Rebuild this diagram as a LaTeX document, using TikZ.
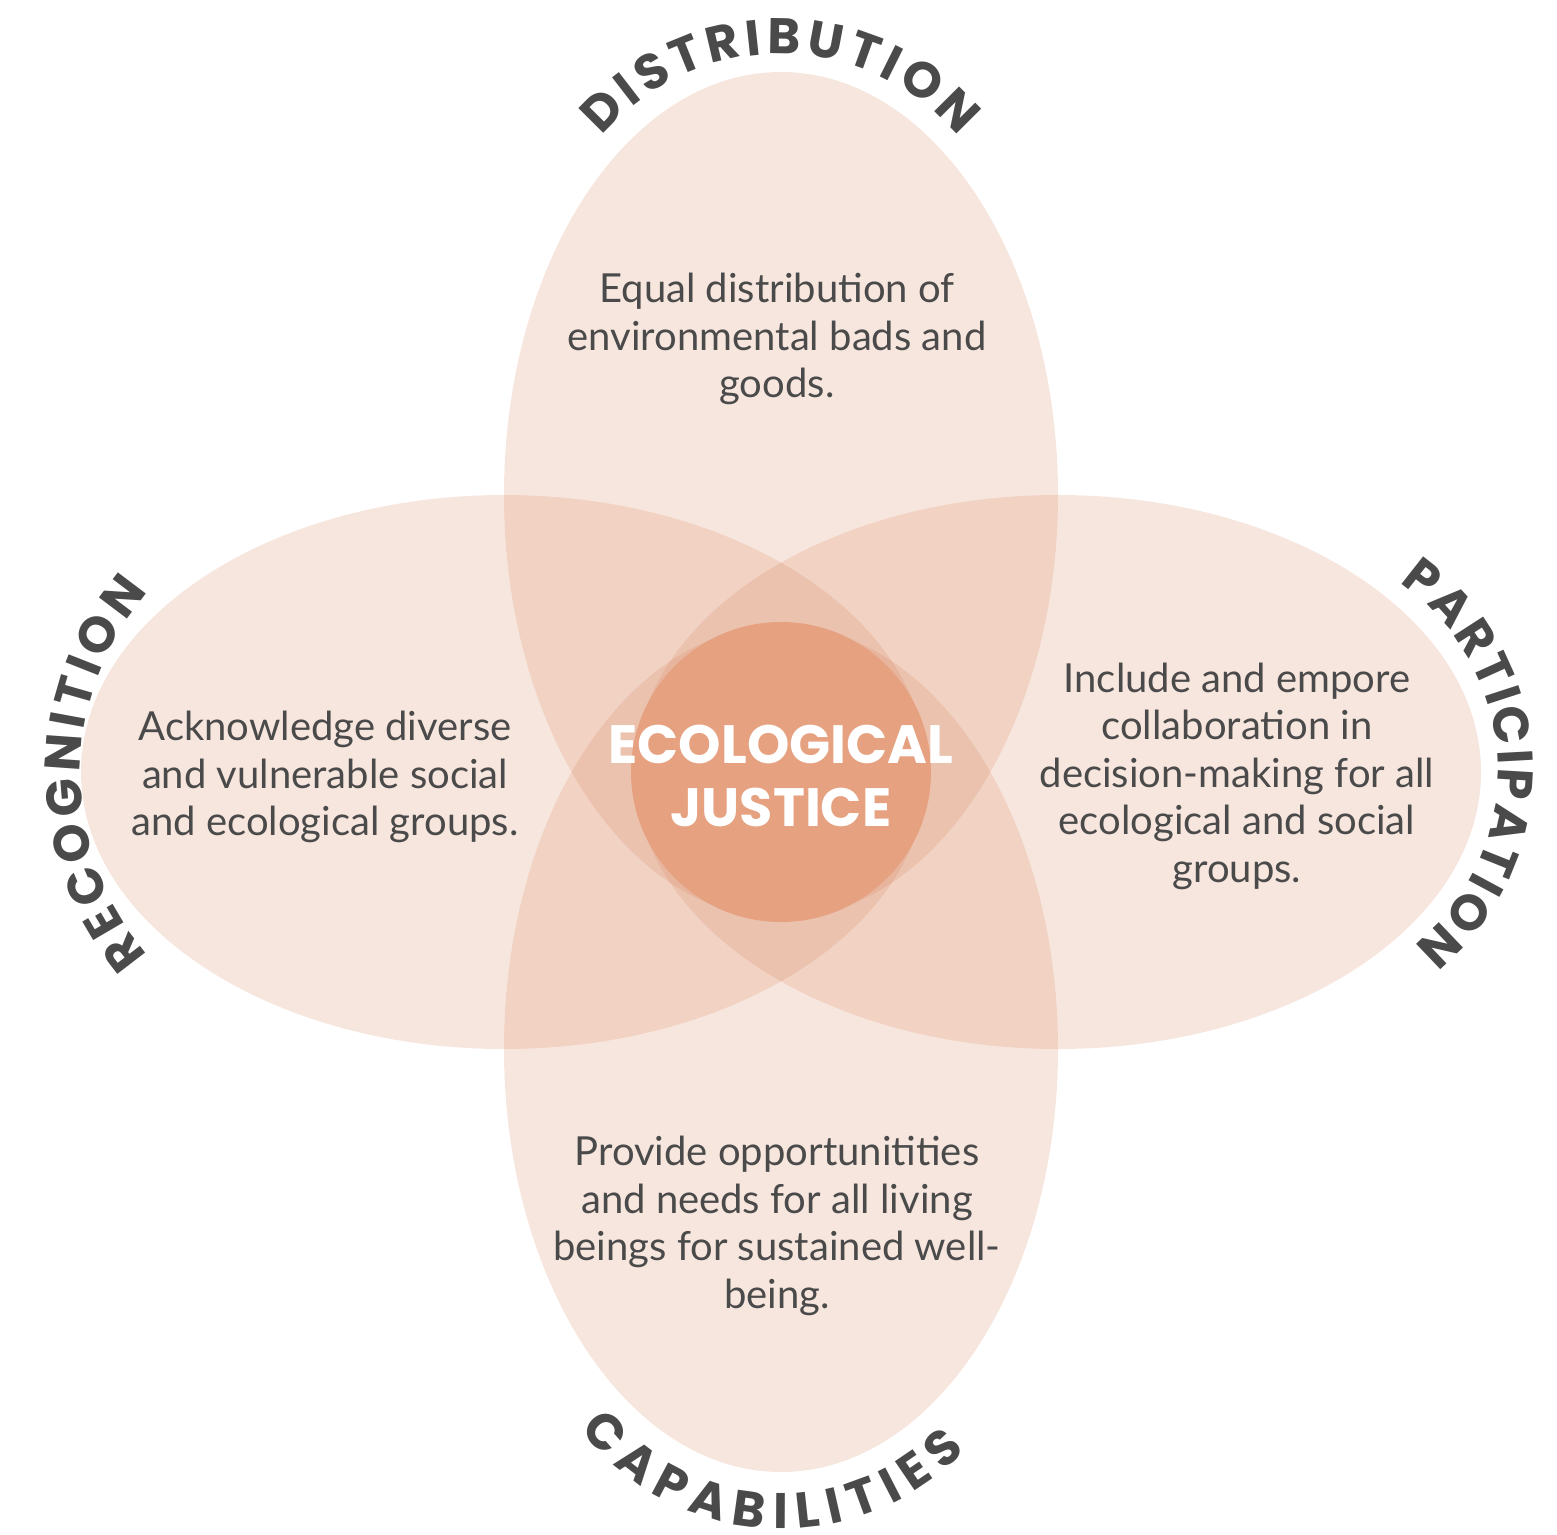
\documentclass[tikz,border=0pt]{standalone}
\usepackage{fontspec}
\setmainfont{Lato}
\newfontfamily\headfont{Poppins}
\usetikzlibrary{decorations.text,shapes.geometric}
\definecolor{petalcol}{RGB}{215,130,90}
\definecolor{corecol}{RGB}{230,161,128}
\definecolor{inkgray}{RGB}{74,74,74}
\newcommand\labfont{\headfont\bfseries\fontsize{50}{50}\selectfont}
\begin{document}
\begin{tikzpicture}[x=1pt,y=1pt,
  petal/.style={ellipse, draw=none, fill=petalcol, fill opacity=0.2, inner sep=0pt, outer sep=0pt},
  core/.style={circle, draw=none, fill=corecol, inner sep=0pt, minimum size=300pt},
  body/.style={text=inkgray, align=center, font=\fontsize{40}{47.5}\selectfont},
  title/.style={text=white, align=center, font=\headfont\bfseries\fontsize{54}{63}\selectfont},
  arclabel/.style={decorate, decoration={text along path, text align={fit to path}, text color=inkgray}}
]
\useasboundingbox (0,0) rectangle (1557,-1534);
% petals
\node[petal, minimum width=554pt, minimum height=846pt] (dist) at (781,-495) {};
\node[petal, minimum width=554pt, minimum height=846pt] (capa) at (781,-1049) {};
\node[petal, minimum width=846pt, minimum height=554pt] (reco) at (504,-772) {};
\node[petal, minimum width=846pt, minimum height=554pt] (part) at (1058,-772) {};
\node[core] (core) at (781,-772) {};
% centre title
\node[title] (ej) at (781,-776) {ECOLOGICAL\\JUSTICE};
% body texts
\node[body] (tdist) at (777,-339) {Equal distribution of\\environmental bads and\\goods.};
\node[body] (treco) at (325,-777) {Acknowledge diverse\\and vulnerable social\\and ecological groups.};
\node[body] (tpart) at (1237,-776) {Include and empore\\collaboration in\\decision-making for all\\ecological and social\\groups.};
\node[body] (tcapa) at (777,-1226) {Provide opportunitities\\and needs for all living\\beings for sustained well-\\being.};
% curved labels
\coordinate (cd) at (780,-288);
\coordinate (cc) at (782,-1276);
\coordinate (cr) at (357.5,-773.5);
\coordinate (cp) at (1272,-770);
\path[arclabel, decoration={text={|\labfont|DISTRIBUTION}}]
  (cd) ++(139.6:234) arc[start angle=139.6, end angle=40.3, radius=234];
\path[arclabel, decoration={text={|\labfont|CAPABILITIES}}]
  (cc) ++(217.2:253) arc[start angle=217.2, end angle=316.4, radius=253];
\path[arclabel, decoration={text={|\labfont|RECOGNITION}}]
  (cr) ++(220.9:277) arc[start angle=220.9, end angle=139.1, radius=277];
\path[arclabel, decoration={text={|\labfont|PARTICIPATION}}]
  (cp) ++(55.8:226) arc[start angle=55.8, end angle=-51.1, radius=226];
\end{tikzpicture}
\end{document}
